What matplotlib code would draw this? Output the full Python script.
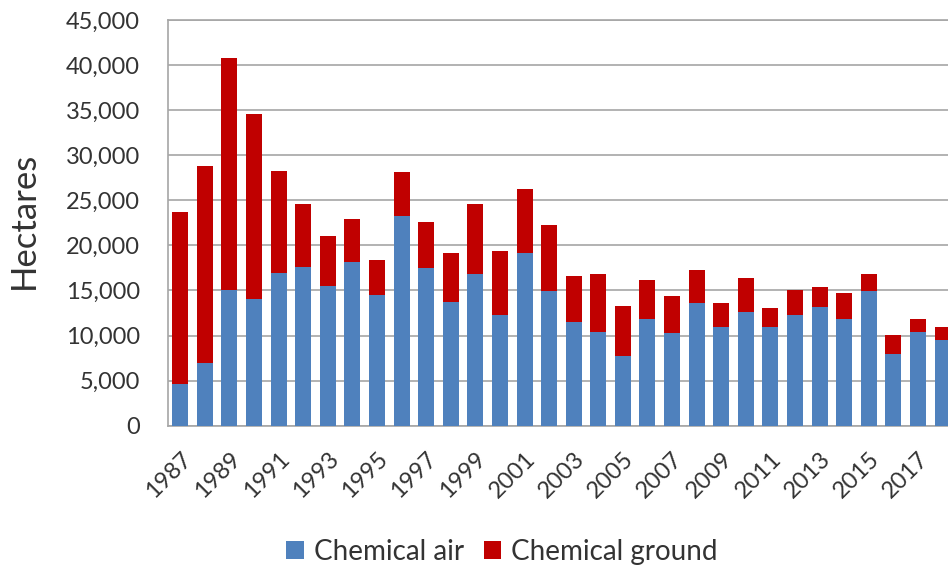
import matplotlib.pyplot as plt
import numpy as np
from matplotlib.ticker import FuncFormatter

years = list(range(1987, 2019))
chemical_air = [4600, 7000, 15100, 14000, 16900, 17600, 15500, 18200, 14500, 23300,
                17500, 13700, 16800, 12300, 19100, 14900, 11500, 10400, 7700, 11800,
                10250, 13600, 10900, 12650, 10900, 12300, 13200, 11800, 14900, 8000,
                10400, 9500]
chemical_ground = [19100, 21800, 25700, 20600, 11300, 7000, 5500, 4700, 3900, 4800,
                   5100, 5500, 7800, 7100, 7200, 7400, 5100, 6400, 5600, 4400,
                   4150, 3700, 2700, 3750, 2100, 2750, 2150, 2950, 1900, 2100,
                   1400, 1400]
tick_years = years[::2]

plt.rcParams['font.family'] = ['Lato', 'DejaVu Sans']
text_col = '#333333'

fig = plt.figure(figsize=(9.48, 5.71), dpi=100)
# the source image is cropped on the right, so the axes runs past the edge
ax = fig.add_axes([0.1772, 0.2545, 0.830, 0.7105])

x = np.arange(len(years))
ax.bar(x, chemical_air, width=0.65, color='#4F81BD', label='Chemical air', zorder=3)
ax.bar(x, chemical_ground, width=0.65, bottom=chemical_air, color='#C00000',
       label='Chemical ground', zorder=3)

ax.set_xlim(-0.5, len(years) - 0.5)
ax.set_ylim(0, 45000)
ax.set_yticks(np.arange(0, 45001, 5000))
ax.yaxis.set_major_formatter(FuncFormatter(lambda v, p: f'{int(v):,}'))
ax.set_xticks([years.index(y) for y in tick_years])
ax.set_xticklabels([str(y) for y in tick_years], rotation=45, ha='right',
                   rotation_mode='anchor')

ax.grid(axis='y', color='#A6A6A6', linewidth=1.2, zorder=0)
for side in ['left', 'bottom', 'top']:
    ax.spines[side].set_color('#A6A6A6')
    ax.spines[side].set_linewidth(1.2)
ax.spines['right'].set_visible(False)
ax.tick_params(axis='both', length=0, labelsize=17, colors=text_col)
ax.tick_params(axis='y', pad=20)
ax.tick_params(axis='x', pad=16)

ax.set_ylabel('Hectares', fontsize=25, color=text_col)
ax.yaxis.set_label_coords(-0.163, 0.507)

fig.legend(loc='center', bbox_to_anchor=(502 / 948, 1 - 552 / 571), ncol=2,
           frameon=False, fontsize=20, handlelength=0.62, handleheight=0.62,
           handletextpad=0.36, columnspacing=0.72, labelcolor=text_col)

fig.savefig('out.png', dpi=100)
